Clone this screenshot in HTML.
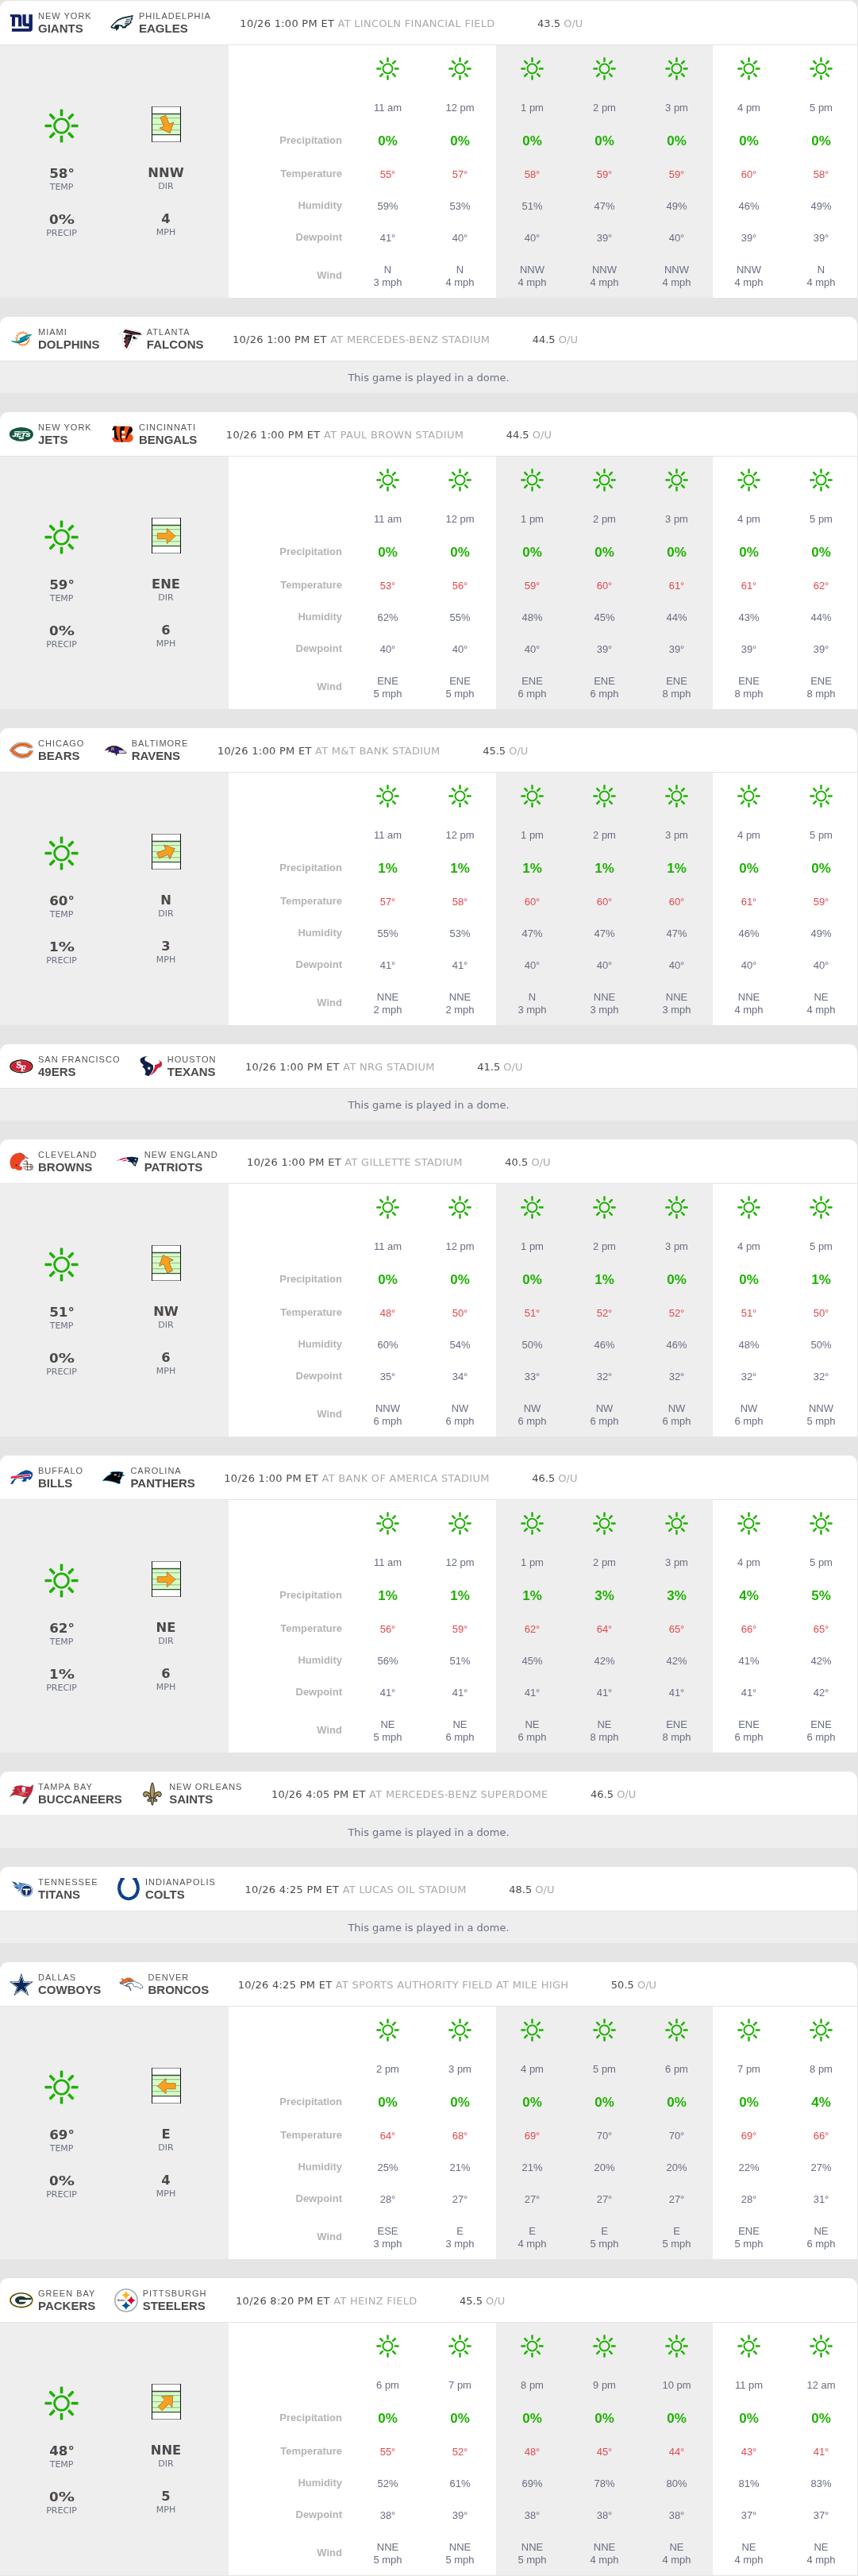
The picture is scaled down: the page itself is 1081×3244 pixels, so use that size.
<!DOCTYPE html>
<html lang="en"><head><meta charset="utf-8"><title>NFL Weather</title>
<style>
*{box-sizing:border-box}
html,body{margin:0;padding:0}
body{width:1081px;height:3244px;background:#e5e5e5;font-family:"Liberation Sans",sans-serif;padding-top:1px;overflow:hidden;position:relative}
.gm{will-change:transform}
.gm{width:1080px;height:374px;margin-bottom:24px;background:#eee;border-radius:10px 10px 0 0;overflow:hidden}
.gm.dome{height:96px}
.hd{height:56px;background:#fff;border-bottom:1px solid #e4e4e4;display:flex;align-items:center;padding:0 0 1px 11px}
.tm{display:flex;align-items:center;margin-right:22.3px}
.lg{width:32px;height:36px;margin-right:5px;position:relative;display:block}
.lg svg{display:block;position:absolute;top:0;overflow:visible}
.tm:nth-child(1) .lg svg{left:-3px}
.tm:nth-child(2) .lg svg{left:-5px}
.tn{display:block;color:#4a4a4a}
.ct{display:block;font-size:11px;letter-spacing:1px;line-height:11px;color:#555;margin-bottom:2px;padding-top:1px}
.nk{display:block;font-size:15px;font-weight:bold;line-height:15px;color:#4a4a4a}
.wh{font-family:"DejaVu Sans",sans-serif;font-size:13px;color:#4a4a4a;margin-left:14.2px;letter-spacing:.28px;position:relative;top:1px;white-space:nowrap}
.wh span{color:#aaa}
.ou{font-family:"DejaVu Sans",sans-serif;font-size:13px;color:#4a4a4a;margin-left:53.5px;position:relative;top:1px;white-space:nowrap}
.ou span{color:#aaa}
.dm{height:40px;line-height:41px;text-align:center;font-family:"DejaVu Sans",sans-serif;font-size:13px;color:#6b7186}
.bd{position:relative;height:318px}
.sm{position:absolute;left:0;top:0;width:288px;height:318px;font-family:"DejaVu Sans",sans-serif;text-align:center}
.c1,.c2{position:absolute;top:0;width:120px}
.c1{left:17.6px}
.c2{left:149px}
.sun{display:block}
.c1 .sun{margin:80px auto 0}
.fi{display:block;margin:77px auto 0}
.v{font-weight:bold;font-size:16px;color:#4a4a4a;line-height:20px}
.l{font-size:11px;color:#6b7186;line-height:14px}
.c1 .v1{margin-top:29px}
.c2 .v1{margin-top:29px}
.v2{margin-top:24px}
table.hr{position:absolute;left:288px;top:0;width:792px;height:318px;border-collapse:collapse;background:#fff;table-layout:fixed}
.hr th{width:155px;text-align:right;font-size:13px;font-weight:bold;color:#b4b4b4;padding:0 12px 2px 0;line-height:16px}
.hr td{width:91px;text-align:center;font-size:13px;color:#696e82;padding:0;line-height:16px}
.hr td.g{background:#eee}
.hr td .sun{margin:0 auto}
.r0{height:59px}
.r1{height:40px}
.r2{height:44px}
.r3{height:40px}
.r4{height:40px}
.r5{height:40px}
.r6{height:55px}
.r6 th{padding-bottom:2px}
.r2 th{padding-bottom:3px}
.r2 td{font-size:17px;font-weight:bold;color:#1db100}
.r3 td{color:#e0494d}
.r3 td.n{color:#696e82}

.pc{display:inline-block;transform:scaleX(1.21);transform-origin:0 50%;margin-right:3.4px}
.c1 .v{transform:scaleX(1.045)}
.c2 .v{transform:scaleX(1.02)}

</style></head><body>
<svg width="0" height="0" style="position:absolute"><defs>
<g id="sun" fill="#1db100">
<circle cx="0" cy="0" r="9.1" fill="none" stroke="#1db100" stroke-width="3"/>
<rect id="ry" x="-1.85" y="-21.6" width="3.7" height="9.1" rx="1.1"/>
<use href="#ry" transform="rotate(45)"/><use href="#ry" transform="rotate(90)"/><use href="#ry" transform="rotate(135)"/>
<use href="#ry" transform="rotate(180)"/><use href="#ry" transform="rotate(225)"/><use href="#ry" transform="rotate(270)"/><use href="#ry" transform="rotate(315)"/>
</g>
<g id="fld">
<rect x="0.5" y="0.5" width="36" height="44" fill="#fff" stroke="none"/>
<rect x="1" y="9.5" width="35" height="26.5" fill="#d3ffc3"/>
<path d="M1 14.7h35M1 22.6h35M1 29.8h35" stroke="#a3a8a0" stroke-width="1"/>
<path d="M1 9.5h35M1 35.6h35" stroke="#3d4a3d" stroke-width="1.3"/>
<path d="M0 .5h37M0 44.5h37" stroke="#8a8a8a" stroke-width="1"/>
<path d="M.5 0v45M36.5 0v45" stroke="#111" stroke-width="1"/>
</g>
<path id="arw" d="M-11.4-3.65H.6V-9.6L11.4 0 .6 9.6V3.65H-11.4Z" fill="#f9a01f" stroke="#8a5a14" stroke-width=".6" stroke-linejoin="miter"/>
</defs></svg>
<div class="gm"><div class="hd"><div class="tm"><span class="lg"><svg width="40" height="36" viewBox="0 0 858 772"><g fill="#0b2265" stroke="#e9a6b0" stroke-width="9" paint-order="stroke"><path d="M105,175H340Q410,175 410,250V500H325V265Q325,250 310,250H235V500H150V235H105Z"/><path d="M440,175H530V395Q530,420 555,420H610V175H705V565Q705,640 630,640H150V560H610V500H520Q440,500 440,420Z"/></g></svg></span><span class="tn"><span class="ct">NEW YORK</span><span class="nk">GIANTS</span></span></div><div class="tm"><span class="lg"><svg width="40" height="36" viewBox="0 0 858 772" style="margin-left:1px"><path fill="#0a2a30" d="M110,520L160,450L300,318L440,252L600,222L730,195L700,270L715,300L665,360L685,390L610,462L560,490L520,540L440,552L410,502L340,482L330,560L265,615L255,562L200,562L140,542Z"/><path fill="#f2f5f5" d="M150,512L205,445L320,345L450,290L600,258L690,235L665,290L680,305L635,360L650,385L585,430L530,455L490,498L455,502L430,465L350,455L335,470L240,468L212,532Z"/><path fill="#1d3a40" d="M520,318L672,283L660,302L540,337ZM500,372L645,336L630,358L520,394ZM480,426L610,394L595,416L500,447Z"/><path fill="#0a2a30" d="M240,466L340,446L328,560L265,612L256,545Z"/></svg></span><span class="tn"><span class="ct">PHILADELPHIA</span><span class="nk">EAGLES</span></span></div><div class="wh">10/26 1:00 PM ET <span>AT LINCOLN FINANCIAL FIELD</span></div><div class="ou">43.5 <span>O/U</span></div></div><div class="bd"><div class="sm"><div class="c1"><svg class="sun" width="43" height="43" viewBox="-22 -22 44 44"><use href="#sun"/></svg><div class="v v1">58°</div><div class="l">TEMP</div><div class="v v2">0<span class="pc">%</span></div><div class="l">PRECIP</div></div><div class="c2"><svg class="fi" width="37" height="45" viewBox="0 0 37 45"><use href="#fld"/><use href="#arw" transform="translate(18.7 23.1) rotate(67.5)"/></svg><div class="v v1">NNW</div><div class="l">DIR</div><div class="v v2">4</div><div class="l">MPH</div></div></div><table class="hr"><tr class="r0"><th></th><td><svg class="sun" width="29" height="29" viewBox="-22 -22 44 44"><use href="#sun"/></svg></td><td><svg class="sun" width="29" height="29" viewBox="-22 -22 44 44"><use href="#sun"/></svg></td><td class=g><svg class="sun" width="29" height="29" viewBox="-22 -22 44 44"><use href="#sun"/></svg></td><td class=g><svg class="sun" width="29" height="29" viewBox="-22 -22 44 44"><use href="#sun"/></svg></td><td class=g><svg class="sun" width="29" height="29" viewBox="-22 -22 44 44"><use href="#sun"/></svg></td><td><svg class="sun" width="29" height="29" viewBox="-22 -22 44 44"><use href="#sun"/></svg></td><td><svg class="sun" width="29" height="29" viewBox="-22 -22 44 44"><use href="#sun"/></svg></td></tr><tr class="r1"><th></th><td>11 am</td><td>12 pm</td><td class=g>1 pm</td><td class=g>2 pm</td><td class=g>3 pm</td><td>4 pm</td><td>5 pm</td></tr><tr class="r2"><th>Precipitation</th><td>0%</td><td>0%</td><td class=g>0%</td><td class=g>0%</td><td class=g>0%</td><td>0%</td><td>0%</td></tr><tr class="r3"><th>Temperature</th><td>55°</td><td>57°</td><td class="g">58°</td><td class="g">59°</td><td class="g">59°</td><td>60°</td><td>58°</td></tr><tr class="r4"><th>Humidity</th><td>59%</td><td>53%</td><td class=g>51%</td><td class=g>47%</td><td class=g>49%</td><td>46%</td><td>49%</td></tr><tr class="r5"><th>Dewpoint</th><td>41°</td><td>40°</td><td class=g>40°</td><td class=g>39°</td><td class=g>40°</td><td>39°</td><td>39°</td></tr><tr class="r6"><th>Wind</th><td>N<br>3 mph</td><td>N<br>4 mph</td><td class=g>NNW<br>4 mph</td><td class=g>NNW<br>4 mph</td><td class=g>NNW<br>4 mph</td><td>NNW<br>4 mph</td><td>N<br>4 mph</td></tr></table></div></div>
<div class="gm dome"><div class="hd"><div class="tm"><span class="lg"><svg width="40" height="36" viewBox="0 0 858 772"><circle cx="445" cy="400" r="165" fill="none" stroke="#f6923c" stroke-width="34"/><circle cx="445" cy="400" r="190" fill="none" stroke="#f6923c" stroke-width="30" stroke-dasharray="24 50.6"/><path fill="#fff" d="M330,480L640,300L700,290L560,450L440,500Z"/><path fill="#0a8f99" d="M115,445L200,462L300,468L350,440L372,400L345,378L420,352L500,310L600,282L700,280L640,330L585,395L555,425L545,475L520,440L440,490L350,520L250,512L170,490Z"/><path fill="#fff" d="M640,322L530,398L500,420L610,315Z"/><path fill="#1c3f74" d="M655,320L565,420L440,492L350,520L430,470L540,410Z"/></svg></span><span class="tn"><span class="ct">MIAMI</span><span class="nk">DOLPHINS</span></span></div><div class="tm"><span class="lg"><svg width="40" height="36" viewBox="0 0 858 772" style="margin-left:1px"><path fill="#fff" stroke="#b9bec3" stroke-width="11" stroke-linejoin="round" d="M125,272L282,108L700,218L752,300L640,312L622,420L525,420L382,688L262,640L218,480L232,290Z"/><path fill="#111" d="M235,225L295,150L700,240L740,292L480,287Z"/><path fill="#b81f3c" d="M300,193L640,255L600,272L296,216Z"/><path fill="#111" d="M300,290L490,290L440,450L340,660L280,600L300,520L255,480L290,420L255,400L300,340Z"/><path fill="#b81f3c" d="M315,362L405,328L300,402ZM288,472L402,398L310,522ZM308,592L392,478L340,632Z"/><path stroke="#fff" stroke-width="10" d="M285,445L425,350M298,565L412,430"/><path fill="#111" d="M490,377L525,320L622,402L560,396L540,412Z"/><path fill="#b81f3c" d="M520,372L560,385L535,395Z"/></svg></span><span class="tn"><span class="ct">ATLANTA</span><span class="nk">FALCONS</span></span></div><div class="wh">10/26 1:00 PM ET <span>AT MERCEDES-BENZ STADIUM</span></div><div class="ou">44.5 <span>O/U</span></div></div><div class="dm">This game is played in a dome.</div></div>
<div class="gm"><div class="hd"><div class="tm"><span class="lg"><svg width="40" height="36" viewBox="0 0 858 772"><ellipse cx="405" cy="405" rx="322" ry="190" fill="#115740"/><text x="408" y="462" text-anchor="middle" font-family="Liberation Sans,sans-serif" font-weight="bold" font-style="italic" font-size="142" textLength="490" lengthAdjust="spacingAndGlyphs" fill="#fff" stroke="#fff" stroke-width="8">JETS</text><text x="408" y="340" text-anchor="middle" font-family="Liberation Sans,sans-serif" font-weight="bold" font-size="40" textLength="380" lengthAdjust="spacingAndGlyphs" fill="#fff" stroke="#fff" stroke-width="5">NEW YORK</text><ellipse cx="405" cy="508" rx="72" ry="28" fill="#fff"/><ellipse cx="405" cy="494" rx="42" ry="7" fill="#115740"/></svg></span><span class="tn"><span class="ct">NEW YORK</span><span class="nk">JETS</span></span></div><div class="tm"><span class="lg"><svg width="40" height="36" viewBox="0 0 858 772" style="margin-left:1px"><path fill="#f05014" d="M200,190H620Q715,195 705,300Q695,365 640,392Q735,430 722,525Q700,612 600,615H215L150,520L215,478V290L155,297Z"/><path fill="#fff" d="M410,318h92v62h-92zM410,448h92v58h-92z"/><path fill="#000" d="M200,190L275,190Q240,330 300,480L335,565L285,555L215,478V290L155,297ZM385,193L505,193L470,300L412,300V520L450,612L405,612L365,450Q350,320 385,193ZM640,197Q715,215 703,310L610,410L545,545L520,545Q545,400 600,280Z"/></svg></span><span class="tn"><span class="ct">CINCINNATI</span><span class="nk">BENGALS</span></span></div><div class="wh">10/26 1:00 PM ET <span>AT PAUL BROWN STADIUM</span></div><div class="ou">44.5 <span>O/U</span></div></div><div class="bd"><div class="sm"><div class="c1"><svg class="sun" width="43" height="43" viewBox="-22 -22 44 44"><use href="#sun"/></svg><div class="v v1">59°</div><div class="l">TEMP</div><div class="v v2">0<span class="pc">%</span></div><div class="l">PRECIP</div></div><div class="c2"><svg class="fi" width="37" height="45" viewBox="0 0 37 45"><use href="#fld"/><use href="#arw" transform="translate(18.7 23.1) rotate(0)"/></svg><div class="v v1">ENE</div><div class="l">DIR</div><div class="v v2">6</div><div class="l">MPH</div></div></div><table class="hr"><tr class="r0"><th></th><td><svg class="sun" width="29" height="29" viewBox="-22 -22 44 44"><use href="#sun"/></svg></td><td><svg class="sun" width="29" height="29" viewBox="-22 -22 44 44"><use href="#sun"/></svg></td><td class=g><svg class="sun" width="29" height="29" viewBox="-22 -22 44 44"><use href="#sun"/></svg></td><td class=g><svg class="sun" width="29" height="29" viewBox="-22 -22 44 44"><use href="#sun"/></svg></td><td class=g><svg class="sun" width="29" height="29" viewBox="-22 -22 44 44"><use href="#sun"/></svg></td><td><svg class="sun" width="29" height="29" viewBox="-22 -22 44 44"><use href="#sun"/></svg></td><td><svg class="sun" width="29" height="29" viewBox="-22 -22 44 44"><use href="#sun"/></svg></td></tr><tr class="r1"><th></th><td>11 am</td><td>12 pm</td><td class=g>1 pm</td><td class=g>2 pm</td><td class=g>3 pm</td><td>4 pm</td><td>5 pm</td></tr><tr class="r2"><th>Precipitation</th><td>0%</td><td>0%</td><td class=g>0%</td><td class=g>0%</td><td class=g>0%</td><td>0%</td><td>0%</td></tr><tr class="r3"><th>Temperature</th><td>53°</td><td>56°</td><td class="g">59°</td><td class="g">60°</td><td class="g">61°</td><td>61°</td><td>62°</td></tr><tr class="r4"><th>Humidity</th><td>62%</td><td>55%</td><td class=g>48%</td><td class=g>45%</td><td class=g>44%</td><td>43%</td><td>44%</td></tr><tr class="r5"><th>Dewpoint</th><td>40°</td><td>40°</td><td class=g>40°</td><td class=g>39°</td><td class=g>39°</td><td>39°</td><td>39°</td></tr><tr class="r6"><th>Wind</th><td>ENE<br>5 mph</td><td>ENE<br>5 mph</td><td class=g>ENE<br>6 mph</td><td class=g>ENE<br>6 mph</td><td class=g>ENE<br>8 mph</td><td>ENE<br>8 mph</td><td>ENE<br>8 mph</td></tr></table></div></div>
<div class="gm"><div class="hd"><div class="tm"><span class="lg"><svg width="40" height="36" viewBox="0 0 858 772"><g transform="translate(405 403) scale(1.035 1.1) translate(-415 -410)"><path d="M690,322C640,265 540,238 440,238C300,238 190,325 128,410C190,498 300,582 440,582C570,582 670,530 702,438L640,438C610,490 530,524 440,524C330,524 250,470 205,410C250,350 330,296 440,296C510,296 570,312 615,340L690,340Z" fill="#2b3f74" stroke="#2b3f74" stroke-width="44" stroke-linejoin="round"/><path d="M690,322C640,265 540,238 440,238C300,238 190,325 128,410C190,498 300,582 440,582C570,582 670,530 702,438L640,438C610,490 530,524 440,524C330,524 250,470 205,410C250,350 330,296 440,296C510,296 570,312 615,340L690,340Z" fill="#fff" stroke="#fff" stroke-width="26" stroke-linejoin="round"/><path d="M690,322C640,265 540,238 440,238C300,238 190,325 128,410C190,498 300,582 440,582C570,582 670,530 702,438L640,438C610,490 530,524 440,524C330,524 250,470 205,410C250,350 330,296 440,296C510,296 570,312 615,340L690,340Z" fill="#e8600f" stroke="#e8600f" stroke-width="6"/></g></svg></span><span class="tn"><span class="ct">CHICAGO</span><span class="nk">BEARS</span></span></div><div class="tm"><span class="lg"><svg width="40" height="36" viewBox="0 0 858 772" style="margin-left:2px"><path fill="#2a1f7a" stroke="#dbab25" stroke-width="16" stroke-linejoin="round" paint-order="stroke" d="M125,410L220,322L330,282L450,287L560,340L650,400L725,470L700,490L520,490L470,500L440,550L410,480L300,462L280,432L220,460L250,392Z"/><path fill="#120d2e" opacity=".75" d="M200,352L330,300L450,300L560,352L640,402L500,350L400,322L300,332Z"/><path fill="#f6f6f6" d="M505,410L650,412L712,468L520,478Z"/><path stroke="#555" stroke-width="8" d="M520,440L690,450"/><circle cx="498" cy="375" r="11" fill="#c02030"/><text x="292" y="418" font-family="Liberation Serif,serif" font-weight="bold" font-style="italic" font-size="140" fill="#ecbc34">B</text></svg></span><span class="tn"><span class="ct">BALTIMORE</span><span class="nk">RAVENS</span></span></div><div class="wh">10/26 1:00 PM ET <span>AT M&amp;T BANK STADIUM</span></div><div class="ou">45.5 <span>O/U</span></div></div><div class="bd"><div class="sm"><div class="c1"><svg class="sun" width="43" height="43" viewBox="-22 -22 44 44"><use href="#sun"/></svg><div class="v v1">60°</div><div class="l">TEMP</div><div class="v v2">1<span class="pc">%</span></div><div class="l">PRECIP</div></div><div class="c2"><svg class="fi" width="37" height="45" viewBox="0 0 37 45"><use href="#fld"/><use href="#arw" transform="translate(18.7 23.1) rotate(-22.5)"/></svg><div class="v v1">N</div><div class="l">DIR</div><div class="v v2">3</div><div class="l">MPH</div></div></div><table class="hr"><tr class="r0"><th></th><td><svg class="sun" width="29" height="29" viewBox="-22 -22 44 44"><use href="#sun"/></svg></td><td><svg class="sun" width="29" height="29" viewBox="-22 -22 44 44"><use href="#sun"/></svg></td><td class=g><svg class="sun" width="29" height="29" viewBox="-22 -22 44 44"><use href="#sun"/></svg></td><td class=g><svg class="sun" width="29" height="29" viewBox="-22 -22 44 44"><use href="#sun"/></svg></td><td class=g><svg class="sun" width="29" height="29" viewBox="-22 -22 44 44"><use href="#sun"/></svg></td><td><svg class="sun" width="29" height="29" viewBox="-22 -22 44 44"><use href="#sun"/></svg></td><td><svg class="sun" width="29" height="29" viewBox="-22 -22 44 44"><use href="#sun"/></svg></td></tr><tr class="r1"><th></th><td>11 am</td><td>12 pm</td><td class=g>1 pm</td><td class=g>2 pm</td><td class=g>3 pm</td><td>4 pm</td><td>5 pm</td></tr><tr class="r2"><th>Precipitation</th><td>1%</td><td>1%</td><td class=g>1%</td><td class=g>1%</td><td class=g>1%</td><td>0%</td><td>0%</td></tr><tr class="r3"><th>Temperature</th><td>57°</td><td>58°</td><td class="g">60°</td><td class="g">60°</td><td class="g">60°</td><td>61°</td><td>59°</td></tr><tr class="r4"><th>Humidity</th><td>55%</td><td>53%</td><td class=g>47%</td><td class=g>47%</td><td class=g>47%</td><td>46%</td><td>49%</td></tr><tr class="r5"><th>Dewpoint</th><td>41°</td><td>41°</td><td class=g>40°</td><td class=g>40°</td><td class=g>40°</td><td>40°</td><td>40°</td></tr><tr class="r6"><th>Wind</th><td>NNE<br>2 mph</td><td>NNE<br>2 mph</td><td class=g>N<br>3 mph</td><td class=g>NNE<br>3 mph</td><td class=g>NNE<br>3 mph</td><td>NNE<br>4 mph</td><td>NE<br>4 mph</td></tr></table></div></div>
<div class="gm dome"><div class="hd"><div class="tm"><span class="lg"><svg width="40" height="36" viewBox="0 0 858 772"><ellipse cx="405" cy="405" rx="313" ry="183" fill="#111"/><ellipse cx="405" cy="405" rx="283" ry="159" fill="#caa35a"/><ellipse cx="405" cy="405" rx="272" ry="150" fill="#cf1f38"/><g font-family="Liberation Serif,serif" font-weight="bold" fill="#fff" stroke="#fff" stroke-width="9"><text x="268" y="448" font-size="250">S</text><text x="385" y="535" font-size="230">F</text></g></svg></span><span class="tn"><span class="ct">SAN FRANCISCO</span><span class="nk">49ERS</span></span></div><div class="tm"><span class="lg"><svg width="40" height="36" viewBox="0 0 858 772" style="margin-left:1.5px"><path fill="#0e1f45" d="M350,128Q230,130 160,185Q120,240 160,300L240,380L195,412L262,470L292,560L268,632L370,672L432,600L492,490L495,380L400,318L300,270Q230,220 290,155Z"/><path fill="#cf2038" d="M620,230L705,275Q760,340 705,420L620,452L545,560L400,668L482,560L530,440L540,372L625,340Q690,315 660,262Z"/><path fill="#fff" d="M382,397L397,437L439,438L406,465L417,506L382,482L347,506L358,465L325,438L367,437Z"/></svg></span><span class="tn"><span class="ct">HOUSTON</span><span class="nk">TEXANS</span></span></div><div class="wh">10/26 1:00 PM ET <span>AT NRG STADIUM</span></div><div class="ou">41.5 <span>O/U</span></div></div><div class="dm">This game is played in a dome.</div></div>
<div class="gm"><div class="hd"><div class="tm"><span class="lg"><svg width="40" height="36" viewBox="0 0 858 772"><path fill="#ee4423" d="M130,565Q85,450 100,380Q130,230 260,180Q380,150 470,215Q520,260 510,300L500,335L430,372L380,452L352,522L420,540L432,600L382,642L300,632L222,592L180,612Z"/><path fill="none" stroke="#3a2418" stroke-width="14" d="M345,165Q460,190 520,275L585,310"/><path fill="none" stroke="#8b8f8f" stroke-width="12" d="M500,335L430,372L380,452L352,522"/><circle cx="270" cy="505" r="23" fill="#1d2a22"/><path fill="none" stroke="#4a3020" stroke-width="17" stroke-linejoin="round" d="M440,470L690,480Q732,540 705,615L560,635L480,585M455,545L720,548M560,400L572,630M660,480L668,620M480,400L560,380L562,480M520,300L590,320"/></svg></span><span class="tn"><span class="ct">CLEVELAND</span><span class="nk">BROWNS</span></span></div><div class="tm"><span class="lg"><svg width="40" height="36" viewBox="0 0 858 772" style="margin-left:-0.5px"><path fill="#0b2245" d="M445,282L600,275L755,300L742,380L700,470L680,535L640,512L560,420L450,395L520,370L450,340Z"/><path fill="#fff" d="M682,320L689,340L711,341L693,354L700,374L682,362L664,374L671,354L653,341L675,340Z"/><path fill="#c8ced8" d="M612,432L652,415L692,442L662,505Z"/><path fill="#0b2245" d="M640,430L650,500M660,430L670,500" stroke="#0b2245" stroke-width="7"/><path fill="#d21034" d="M155,378L300,322L440,287L447,314L330,348L200,380Z"/><path fill="#d21034" d="M300,390L380,362L450,347L450,368L380,390Z"/><path fill="#fff" opacity=".45" d="M150,370L260,330L260,390L150,390Z"/></svg></span><span class="tn"><span class="ct">NEW ENGLAND</span><span class="nk">PATRIOTS</span></span></div><div class="wh">10/26 1:00 PM ET <span>AT GILLETTE STADIUM</span></div><div class="ou">40.5 <span>O/U</span></div></div><div class="bd"><div class="sm"><div class="c1"><svg class="sun" width="43" height="43" viewBox="-22 -22 44 44"><use href="#sun"/></svg><div class="v v1">51°</div><div class="l">TEMP</div><div class="v v2">0<span class="pc">%</span></div><div class="l">PRECIP</div></div><div class="c2"><svg class="fi" width="37" height="45" viewBox="0 0 37 45"><use href="#fld"/><use href="#arw" transform="translate(18.7 23.1) rotate(-112.5)"/></svg><div class="v v1">NW</div><div class="l">DIR</div><div class="v v2">6</div><div class="l">MPH</div></div></div><table class="hr"><tr class="r0"><th></th><td><svg class="sun" width="29" height="29" viewBox="-22 -22 44 44"><use href="#sun"/></svg></td><td><svg class="sun" width="29" height="29" viewBox="-22 -22 44 44"><use href="#sun"/></svg></td><td class=g><svg class="sun" width="29" height="29" viewBox="-22 -22 44 44"><use href="#sun"/></svg></td><td class=g><svg class="sun" width="29" height="29" viewBox="-22 -22 44 44"><use href="#sun"/></svg></td><td class=g><svg class="sun" width="29" height="29" viewBox="-22 -22 44 44"><use href="#sun"/></svg></td><td><svg class="sun" width="29" height="29" viewBox="-22 -22 44 44"><use href="#sun"/></svg></td><td><svg class="sun" width="29" height="29" viewBox="-22 -22 44 44"><use href="#sun"/></svg></td></tr><tr class="r1"><th></th><td>11 am</td><td>12 pm</td><td class=g>1 pm</td><td class=g>2 pm</td><td class=g>3 pm</td><td>4 pm</td><td>5 pm</td></tr><tr class="r2"><th>Precipitation</th><td>0%</td><td>0%</td><td class=g>0%</td><td class=g>1%</td><td class=g>0%</td><td>0%</td><td>1%</td></tr><tr class="r3"><th>Temperature</th><td>48°</td><td>50°</td><td class="g">51°</td><td class="g">52°</td><td class="g">52°</td><td>51°</td><td>50°</td></tr><tr class="r4"><th>Humidity</th><td>60%</td><td>54%</td><td class=g>50%</td><td class=g>46%</td><td class=g>46%</td><td>48%</td><td>50%</td></tr><tr class="r5"><th>Dewpoint</th><td>35°</td><td>34°</td><td class=g>33°</td><td class=g>32°</td><td class=g>32°</td><td>32°</td><td>32°</td></tr><tr class="r6"><th>Wind</th><td>NNW<br>6 mph</td><td>NW<br>6 mph</td><td class=g>NW<br>6 mph</td><td class=g>NW<br>6 mph</td><td class=g>NW<br>6 mph</td><td>NW<br>6 mph</td><td>NNW<br>5 mph</td></tr></table></div></div>
<div class="gm"><div class="hd"><div class="tm"><span class="lg"><svg width="40" height="36" viewBox="0 0 858 772"><path fill="#0d4aa0" d="M280,330L400,252L530,200L620,215L700,262L715,330L682,420L622,470L585,430L545,445L540,500L462,520L412,482L470,452L440,425L300,425L235,470L180,572L112,582L150,500L225,432L120,425L140,365Z"/><path fill="#fff" d="M132,352L652,308L662,368L102,442Z"/><path fill="#e8152e" d="M142,368L640,322L645,352L110,428Z"/><path fill="#fff" d="M258,445L292,445L195,572L168,578Z"/><path fill="#fff" d="M645,325L672,318L668,372L645,358Z"/></svg></span><span class="tn"><span class="ct">BUFFALO</span><span class="nk">BILLS</span></span></div><div class="tm"><span class="lg"><svg width="40" height="36" viewBox="0 0 858 772" style="margin-left:1px"><path fill="#000" stroke="#0a7fc8" stroke-width="15" stroke-linejoin="round" d="M135,485L250,372L372,300L345,265L420,245L560,240L690,260L672,320L722,350L652,362L640,420L602,480L612,540L580,572L480,532L350,497L230,482Z"/><path fill="#9a9a9a" d="M440,307L515,300L515,350L440,355Z"/><path fill="#e5e5e5" d="M575,300L612,288L600,326ZM545,372L600,345L615,382L590,365L560,392Z"/><circle cx="555" cy="480" r="10" fill="#a06a40"/></svg></span><span class="tn"><span class="ct">CAROLINA</span><span class="nk">PANTHERS</span></span></div><div class="wh">10/26 1:00 PM ET <span>AT BANK OF AMERICA STADIUM</span></div><div class="ou">46.5 <span>O/U</span></div></div><div class="bd"><div class="sm"><div class="c1"><svg class="sun" width="43" height="43" viewBox="-22 -22 44 44"><use href="#sun"/></svg><div class="v v1">62°</div><div class="l">TEMP</div><div class="v v2">1<span class="pc">%</span></div><div class="l">PRECIP</div></div><div class="c2"><svg class="fi" width="37" height="45" viewBox="0 0 37 45"><use href="#fld"/><use href="#arw" transform="translate(18.7 23.1) rotate(0)"/></svg><div class="v v1">NE</div><div class="l">DIR</div><div class="v v2">6</div><div class="l">MPH</div></div></div><table class="hr"><tr class="r0"><th></th><td><svg class="sun" width="29" height="29" viewBox="-22 -22 44 44"><use href="#sun"/></svg></td><td><svg class="sun" width="29" height="29" viewBox="-22 -22 44 44"><use href="#sun"/></svg></td><td class=g><svg class="sun" width="29" height="29" viewBox="-22 -22 44 44"><use href="#sun"/></svg></td><td class=g><svg class="sun" width="29" height="29" viewBox="-22 -22 44 44"><use href="#sun"/></svg></td><td class=g><svg class="sun" width="29" height="29" viewBox="-22 -22 44 44"><use href="#sun"/></svg></td><td><svg class="sun" width="29" height="29" viewBox="-22 -22 44 44"><use href="#sun"/></svg></td><td><svg class="sun" width="29" height="29" viewBox="-22 -22 44 44"><use href="#sun"/></svg></td></tr><tr class="r1"><th></th><td>11 am</td><td>12 pm</td><td class=g>1 pm</td><td class=g>2 pm</td><td class=g>3 pm</td><td>4 pm</td><td>5 pm</td></tr><tr class="r2"><th>Precipitation</th><td>1%</td><td>1%</td><td class=g>1%</td><td class=g>3%</td><td class=g>3%</td><td>4%</td><td>5%</td></tr><tr class="r3"><th>Temperature</th><td>56°</td><td>59°</td><td class="g">62°</td><td class="g">64°</td><td class="g">65°</td><td>66°</td><td>65°</td></tr><tr class="r4"><th>Humidity</th><td>56%</td><td>51%</td><td class=g>45%</td><td class=g>42%</td><td class=g>42%</td><td>41%</td><td>42%</td></tr><tr class="r5"><th>Dewpoint</th><td>41°</td><td>41°</td><td class=g>41°</td><td class=g>41°</td><td class=g>41°</td><td>41°</td><td>42°</td></tr><tr class="r6"><th>Wind</th><td>NE<br>5 mph</td><td>NE<br>6 mph</td><td class=g>NE<br>6 mph</td><td class=g>NE<br>8 mph</td><td class=g>ENE<br>8 mph</td><td>ENE<br>6 mph</td><td>ENE<br>6 mph</td></tr></table></div></div>
<div class="gm dome"><div class="hd"><div class="tm"><span class="lg"><svg width="40" height="36" viewBox="0 0 858 772"><path fill="#444" d="M600,470L640,440L522,640L470,685L440,660L480,560Z"/><path fill="#c4213a" stroke="#4a4a4a" stroke-width="7" stroke-linejoin="round" d="M95,497L140,412L212,342L160,312L242,272L200,242L272,200L400,180L540,215L650,225L715,160L726,200L700,330L642,440L582,500L460,490L340,452L220,432L140,457Z"/><path fill="none" stroke="#a9b3b3" stroke-width="15" d="M302,248Q330,352 505,450M602,352Q520,402 318,402"/><ellipse cx="468" cy="268" rx="53" ry="50" fill="#fff"/><path fill="#e2e2e2" d="M418,292L516,292L500,372L428,372Z"/><path stroke="#777" stroke-width="8" d="M430,318H505M436,345H498"/><ellipse cx="415" cy="418" rx="56" ry="31" fill="#f26212"/></svg></span><span class="tn"><span class="ct">TAMPA BAY</span><span class="nk">BUCCANEERS</span></span></div><div class="tm"><span class="lg"><svg width="40" height="36" viewBox="0 0 858 772" style="margin-left:-0.7px"><g fill="#b59a57" stroke="#454545" stroke-width="54" stroke-linejoin="round" paint-order="stroke"><path d="M430,498C425,440 390,388 320,368C262,355 232,400 245,440C255,470 285,478 305,462C292,430 318,414 342,426C375,446 392,475 395,498Z"/><path d="M510,498 C515,440 550,388 620,368 C678,355 708,400 695,440 C685,470 655,478 635,462 C648,430 622,414 598,426 C565,446 548,475 545,498 Z"/><path d="M440,535C432,580 400,606 365,596C352,588 352,574 366,566C386,578 400,562 408,535Z"/><path d="M500,535 C508,580 540,606 575,596 C588,588 588,574 574,566 C554,578 540,562 532,535 Z"/><path d="M470,128C522,270 520,400 494,498L446,498C420,400 418,270 470,128Z"/><path d="M450,530L490,530C494,600 486,650 470,694C454,650 446,600 450,530Z"/></g><path fill="#454545" d="M402,496H538V532H402Z"/><path fill="#8a7744" d="M440,506H500V522H440Z"/></svg></span><span class="tn"><span class="ct">NEW ORLEANS</span><span class="nk">SAINTS</span></span></div><div class="wh">10/26 4:05 PM ET <span>AT MERCEDES-BENZ SUPERDOME</span></div><div class="ou">46.5 <span>O/U</span></div></div><div class="dm">This game is played in a dome.</div></div>
<div class="gm dome"><div class="hd"><div class="tm"><span class="lg"><svg width="40" height="36" viewBox="0 0 858 772"><path fill="#5b9ad8" d="M140,195L260,230L330,290L360,240L300,215L420,250L470,240L540,260L400,420L330,470L300,450L340,420L200,340L260,340L180,300L230,290Z"/><path fill="#0c2340" d="M150,200L250,250L300,300L230,270ZM200,332L330,380L300,402ZM320,222L430,262L400,280Z"/><path fill="#d0142c" d="M190,205L275,258L240,256ZM215,352L300,385L278,397ZM335,226L402,255L422,277L372,256Z"/><circle cx="545" cy="445" r="172" fill="#5b9ad8"/><circle cx="545" cy="445" r="152" fill="#fff"/><circle cx="545" cy="445" r="136" fill="#0c2a5e"/><path fill="#fff" d="M440,395L650,395L640,442L575,430L560,562L530,562L515,430L450,442Z"/><g fill="#e0142c"><circle cx="545" cy="350" r="15"/><circle cx="455" cy="497" r="15"/><circle cx="632" cy="497" r="15"/></g></svg></span><span class="tn"><span class="ct">TENNESSEE</span><span class="nk">TITANS</span></span></div><div class="tm"><span class="lg"><svg width="40" height="36" viewBox="0 0 858 772" style="margin-left:-0.8px"><path fill="none" stroke="#0a3f8a" stroke-width="88" d="M305,135C215,260 205,400 235,490C270,610 380,670 470,670C560,670 675,610 708,490C738,400 728,260 640,135"/><path stroke="#0a3f8a" stroke-width="52" stroke-linecap="round" d="M268,132H340M605,132H677"/><g fill="#dfe6f2"><circle cx="312" cy="190" r="8"/><circle cx="225" cy="395" r="8"/><circle cx="272" cy="565" r="8"/><circle cx="470" cy="655" r="8"/><circle cx="670" cy="565" r="8"/><circle cx="717" cy="395" r="8"/><circle cx="630" cy="190" r="8"/></g></svg></span><span class="tn"><span class="ct">INDIANAPOLIS</span><span class="nk">COLTS</span></span></div><div class="wh">10/26 4:25 PM ET <span>AT LUCAS OIL STADIUM</span></div><div class="ou">48.5 <span>O/U</span></div></div><div class="dm">This game is played in a dome.</div></div>
<div class="gm"><div class="hd"><div class="tm"><span class="lg"><svg width="40" height="36" viewBox="0 0 858 772"><path fill="#0b2a5b" d="M405,100L481,335L728,335L529,480L605,715L405,570L205,715L281,480L82,335L329,335Z"/><path fill="#fff" d="M405,150L470,350L681,350L510,474L575,675L405,551L235,675L300,474L129,350L340,350Z"/><path fill="#0b2a5b" d="M405,188L462,362L645,362L497,470L553,644L405,536L257,644L313,470L165,362L348,362Z"/></svg></span><span class="tn"><span class="ct">DALLAS</span><span class="nk">COWBOYS</span></span></div><div class="tm"><span class="lg"><svg width="40" height="36" viewBox="0 0 858 772" style="margin-left:0.5px"><path fill="#0a2343" d="M105,330L130,352L170,386L195,395L150,402Z"/><path fill="#fff" stroke="#0a2343" stroke-width="13" stroke-linejoin="round" d="M190,392Q350,320 520,322L650,380L742,452L748,502L662,522L612,472L520,470L482,402L430,372L332,402L282,440L382,452L432,560L415,582L390,482L250,440Z"/><path fill="#f26a1e" stroke="#0a2343" stroke-width="7" stroke-linejoin="round" d="M130,352L200,312L175,240L242,280L330,232L420,236L490,290L502,312L350,322L212,372L170,386Z"/><path fill="#0a2343" d="M290,425Q400,345 500,400L432,382Q350,392 300,435ZM355,288L402,300L380,312Z"/><path fill="none" stroke="#8a93a8" stroke-width="8" d="M520,470L600,440M600,360L620,390M650,480L690,460"/></svg></span><span class="tn"><span class="ct">DENVER</span><span class="nk">BRONCOS</span></span></div><div class="wh">10/26 4:25 PM ET <span>AT SPORTS AUTHORITY FIELD AT MILE HIGH</span></div><div class="ou">50.5 <span>O/U</span></div></div><div class="bd"><div class="sm"><div class="c1"><svg class="sun" width="43" height="43" viewBox="-22 -22 44 44"><use href="#sun"/></svg><div class="v v1">69°</div><div class="l">TEMP</div><div class="v v2">0<span class="pc">%</span></div><div class="l">PRECIP</div></div><div class="c2"><svg class="fi" width="37" height="45" viewBox="0 0 37 45"><use href="#fld"/><use href="#arw" transform="translate(18.7 23.1) rotate(180)"/></svg><div class="v v1">E</div><div class="l">DIR</div><div class="v v2">4</div><div class="l">MPH</div></div></div><table class="hr"><tr class="r0"><th></th><td><svg class="sun" width="29" height="29" viewBox="-22 -22 44 44"><use href="#sun"/></svg></td><td><svg class="sun" width="29" height="29" viewBox="-22 -22 44 44"><use href="#sun"/></svg></td><td class=g><svg class="sun" width="29" height="29" viewBox="-22 -22 44 44"><use href="#sun"/></svg></td><td class=g><svg class="sun" width="29" height="29" viewBox="-22 -22 44 44"><use href="#sun"/></svg></td><td class=g><svg class="sun" width="29" height="29" viewBox="-22 -22 44 44"><use href="#sun"/></svg></td><td><svg class="sun" width="29" height="29" viewBox="-22 -22 44 44"><use href="#sun"/></svg></td><td><svg class="sun" width="29" height="29" viewBox="-22 -22 44 44"><use href="#sun"/></svg></td></tr><tr class="r1"><th></th><td>2 pm</td><td>3 pm</td><td class=g>4 pm</td><td class=g>5 pm</td><td class=g>6 pm</td><td>7 pm</td><td>8 pm</td></tr><tr class="r2"><th>Precipitation</th><td>0%</td><td>0%</td><td class=g>0%</td><td class=g>0%</td><td class=g>0%</td><td>0%</td><td>4%</td></tr><tr class="r3"><th>Temperature</th><td>64°</td><td>68°</td><td class="g">69°</td><td class="g n">70°</td><td class="g n">70°</td><td>69°</td><td>66°</td></tr><tr class="r4"><th>Humidity</th><td>25%</td><td>21%</td><td class=g>21%</td><td class=g>20%</td><td class=g>20%</td><td>22%</td><td>27%</td></tr><tr class="r5"><th>Dewpoint</th><td>28°</td><td>27°</td><td class=g>27°</td><td class=g>27°</td><td class=g>27°</td><td>28°</td><td>31°</td></tr><tr class="r6"><th>Wind</th><td>ESE<br>3 mph</td><td>E<br>3 mph</td><td class=g>E<br>4 mph</td><td class=g>E<br>5 mph</td><td class=g>E<br>5 mph</td><td>ENE<br>5 mph</td><td>NE<br>6 mph</td></tr></table></div></div>
<div class="gm"><div class="hd"><div class="tm"><span class="lg"><svg width="40" height="36" viewBox="0 0 858 772"><ellipse cx="405" cy="400" rx="322" ry="215" fill="#ffb612"/><ellipse cx="405" cy="400" rx="307" ry="201" fill="#1f3a30"/><ellipse cx="405" cy="400" rx="278" ry="174" fill="#fff"/><ellipse cx="395" cy="398" rx="160" ry="110" fill="#1f3a30"/><path fill="#1f3a30" d="M520,340H672V393H520Z"/><path fill="#fff" d="M348,393H690V446H348Z"/></svg></span><span class="tn"><span class="ct">GREEN BAY</span><span class="nk">PACKERS</span></span></div><div class="tm"><span class="lg"><svg width="40" height="36" viewBox="0 0 858 772"><circle cx="450" cy="405" r="303" fill="#fff" stroke="#a5acaf" stroke-width="35"/><path fill="#ffb612" d="M445,145Q469.0,241.0 565,265Q469.0,289.0 445,385Q421.0,289.0 325,265Q421.0,241.0 445,145Z"/><path fill="#c60c30" d="M585,285Q609.0,381.0 705,405Q609.0,429.0 585,525Q561.0,429.0 465,405Q561.0,381.0 585,285Z"/><path fill="#00539b" d="M445,425Q469.0,521.0 565,545Q469.0,569.0 445,665Q421.0,569.0 325,545Q421.0,521.0 445,425Z"/><text x="215" y="428" font-family="Liberation Sans,sans-serif" font-weight="bold" font-size="62" textLength="195" lengthAdjust="spacingAndGlyphs" fill="#222">Steelers</text></svg></span><span class="tn"><span class="ct">PITTSBURGH</span><span class="nk">STEELERS</span></span></div><div class="wh">10/26 8:20 PM ET <span>AT HEINZ FIELD</span></div><div class="ou">45.5 <span>O/U</span></div></div><div class="bd"><div class="sm"><div class="c1"><svg class="sun" width="43" height="43" viewBox="-22 -22 44 44"><use href="#sun"/></svg><div class="v v1">48°</div><div class="l">TEMP</div><div class="v v2">0<span class="pc">%</span></div><div class="l">PRECIP</div></div><div class="c2"><svg class="fi" width="37" height="45" viewBox="0 0 37 45"><use href="#fld"/><use href="#arw" transform="translate(18.7 23.1) rotate(-45)"/></svg><div class="v v1">NNE</div><div class="l">DIR</div><div class="v v2">5</div><div class="l">MPH</div></div></div><table class="hr"><tr class="r0"><th></th><td><svg class="sun" width="29" height="29" viewBox="-22 -22 44 44"><use href="#sun"/></svg></td><td><svg class="sun" width="29" height="29" viewBox="-22 -22 44 44"><use href="#sun"/></svg></td><td class=g><svg class="sun" width="29" height="29" viewBox="-22 -22 44 44"><use href="#sun"/></svg></td><td class=g><svg class="sun" width="29" height="29" viewBox="-22 -22 44 44"><use href="#sun"/></svg></td><td class=g><svg class="sun" width="29" height="29" viewBox="-22 -22 44 44"><use href="#sun"/></svg></td><td><svg class="sun" width="29" height="29" viewBox="-22 -22 44 44"><use href="#sun"/></svg></td><td><svg class="sun" width="29" height="29" viewBox="-22 -22 44 44"><use href="#sun"/></svg></td></tr><tr class="r1"><th></th><td>6 pm</td><td>7 pm</td><td class=g>8 pm</td><td class=g>9 pm</td><td class=g>10 pm</td><td>11 pm</td><td>12 am</td></tr><tr class="r2"><th>Precipitation</th><td>0%</td><td>0%</td><td class=g>0%</td><td class=g>0%</td><td class=g>0%</td><td>0%</td><td>0%</td></tr><tr class="r3"><th>Temperature</th><td>55°</td><td>52°</td><td class="g">48°</td><td class="g">45°</td><td class="g">44°</td><td>43°</td><td>41°</td></tr><tr class="r4"><th>Humidity</th><td>52%</td><td>61%</td><td class=g>69%</td><td class=g>78%</td><td class=g>80%</td><td>81%</td><td>83%</td></tr><tr class="r5"><th>Dewpoint</th><td>38°</td><td>39°</td><td class=g>38°</td><td class=g>38°</td><td class=g>38°</td><td>37°</td><td>37°</td></tr><tr class="r6"><th>Wind</th><td>NNE<br>5 mph</td><td>NNE<br>5 mph</td><td class=g>NNE<br>5 mph</td><td class=g>NNE<br>4 mph</td><td class=g>NE<br>4 mph</td><td>NE<br>4 mph</td><td>NE<br>4 mph</td></tr></table></div></div>
</body></html>
